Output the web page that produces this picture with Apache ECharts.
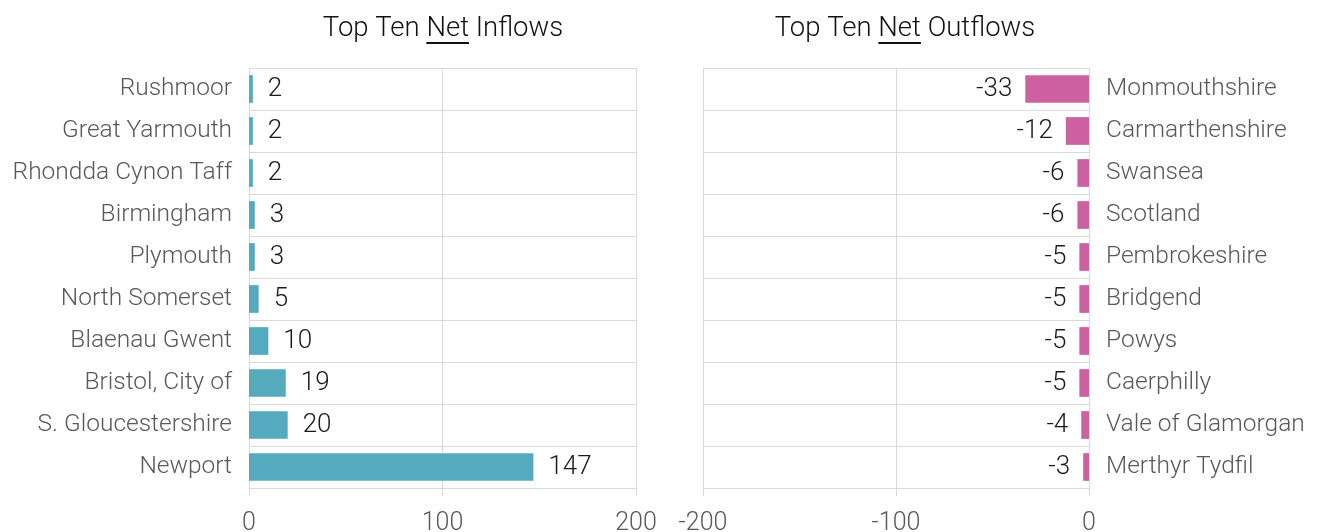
<!DOCTYPE html>
<html>
<head>
<meta charset="utf-8">
<script src="https://cdn.jsdelivr.net/npm/echarts@6/dist/echarts.min.js"></script>
<style>html,body{margin:0;padding:0;background:#fff;}#c{width:1324px;height:532px;}</style>
</head>
<body>
<div id="c"></div>
<script>
const inCats = ['Rushmoor','Great Yarmouth','Rhondda Cynon Taff','Birmingham','Plymouth','North Somerset','Blaenau Gwent','Bristol, City of','S. Gloucestershire','Newport'];
const inVals = [2,2,2,3,3,5,10,19,20,147];
const outCats = ['Monmouthshire','Carmarthenshire','Swansea','Scotland','Pembrokeshire','Bridgend','Powys','Caerphilly','Vale of Glamorgan','Merthyr Tydfil'];
const outVals = [-33,-12,-6,-6,-5,-5,-5,-5,-4,-3];
const titleParts = [['Top Ten ','Net',' Inflows'],['Top Ten ','Net',' Outflows']];

const FF = 'Roboto';
const titleFont = '300 27.5px ' + FF;
const gridColor = '#d9d9d9';
const labelColor = '#595959';

function measure(t){
  const c = document.createElement('canvas').getContext('2d');
  c.font = titleFont;
  return c.measureText(t).width;
}
function titleGraphic(parts, cx){
  const full = parts.join('');
  const W = measure(full);
  const a = measure(parts[0]);
  const n = measure(parts[1]);
  const x0 = cx - W/2 + a;
  return [
    {type:'text', x: cx, y: 29, style:{text: full, font: titleFont, fill:'#111', align:'center', verticalAlign:'middle'}},
    {type:'line', shape:{x1: x0, y1: 43, x2: x0 + n, y2: 43}, style:{stroke:'#111', lineWidth:2}}
  ];
}

const chart = echarts.init(document.getElementById('c'));
function valAxis(idx, min, max){
  return {
    type:'value', gridIndex: idx, min: min, max: max, interval: 100,
    axisLine:{show:false},
    axisTick:{show:true, length:8, lineStyle:{color:gridColor}},
    splitLine:{show:true, lineStyle:{color:gridColor, width:1}},
    axisLabel:{color:labelColor, fontSize:25, fontFamily:FF, fontWeight:300, margin:23}
  };
}
function catAxis(idx, cats, pos){
  return {
    type:'category', gridIndex: idx, data: cats, inverse: true, position: pos,
    axisLine:{show:false}, axisTick:{show:false},
    splitLine:{show:true, lineStyle:{color:gridColor, width:1}},
    axisLabel:{color:labelColor, fontSize:24.5, fontFamily:FF, fontWeight:300, margin:17, padding:[6,0,0,0]}
  };
}
chart.setOption({
  animation:false,
  backgroundColor:'#fff',
  grid:[
    {left:249, width:387, top:68, height:420, outerBoundsMode:'none', containLabel:false},
    {left:703, width:386, top:68, height:420, outerBoundsMode:'none', containLabel:false}
  ],
  xAxis:[valAxis(0,0,200), valAxis(1,-200,0)],
  yAxis:[catAxis(0,inCats,'left'), catAxis(1,outCats,'right')],
  series:[
    {type:'bar', xAxisIndex:0, yAxisIndex:0, data:inVals, barCategoryGap:'34%',
     itemStyle:{color:'#55abbd'},
     label:{show:true, position:'right', distance:15, color:'#1a1a1a', fontSize:26, fontFamily:FF, fontWeight:300, padding:[6,0,0,0]}},
    {type:'bar', xAxisIndex:1, yAxisIndex:1, data:outVals, barCategoryGap:'34%',
     itemStyle:{color:'#cc60a0'},
     label:{show:true, position:'left', distance:13, color:'#1a1a1a', fontSize:26, fontFamily:FF, fontWeight:300, padding:[6,0,0,0]}}
  ],
  graphic: titleGraphic(titleParts[0], 443).concat(titleGraphic(titleParts[1], 905))
});
</script>
</body>
</html>
